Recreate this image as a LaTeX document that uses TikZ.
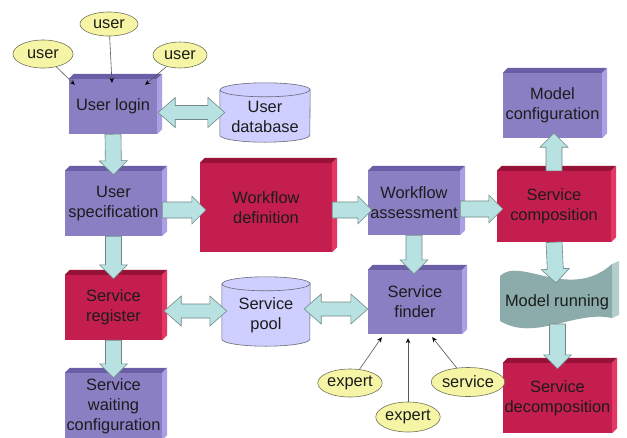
\documentclass[tikz,border=0pt]{standalone}
\usepackage{fontspec}
\setmainfont{Liberation Sans}
\usetikzlibrary{calc,arrows.meta,shapes.geometric}

\definecolor{pfront}{RGB}{139,127,196}
\definecolor{ptop}{RGB}{106,95,166}
\definecolor{pside}{RGB}{170,160,230}
\definecolor{cfront}{RGB}{196,30,78}
\definecolor{ctop}{RGB}{150,18,55}
\definecolor{cside}{RGB}{228,55,100}
\definecolor{cylfill}{RGB}{206,206,255}
\definecolor{cylline}{RGB}{105,105,120}
\definecolor{arrfill}{RGB}{184,226,226}
\definecolor{arrline}{RGB}{115,135,135}
\definecolor{ellfill}{RGB}{245,245,165}
\definecolor{ellline}{RGB}{115,115,90}
\definecolor{wavefill}{RGB}{140,172,172}
\definecolor{waveside}{RGB}{180,206,206}
\definecolor{txt}{RGB}{28,28,28}

\newcommand\boxfaces[3]{%
  \fill[#2] (#1.north west) -- ++(5,-5) -- ($(#1.north east)+(5,-5)$) -- (#1.north east) -- cycle;
  \fill[#3] (#1.north east) -- ++(5,-5) -- ($(#1.south east)+(5,-5)$) -- (#1.south east) -- cycle;
}
\newcommand\cylshape[2]{%
  \filldraw[cylstyle] ($(#1.north west)+(0,7)$) -- ($(#1.south west)+(0,-7)$)
    arc[start angle=180,end angle=360,x radius=#2pt,y radius=7pt]
    -- ($(#1.north east)+(0,7)$)
    arc[start angle=0,end angle=180,x radius=#2pt,y radius=7pt] -- cycle;
  \draw[cylstyle,fill=none] ($(#1.north west)+(0,7)$)
    arc[start angle=180,end angle=360,x radius=#2pt,y radius=7pt];
}
\newcommand\onearrow[2]{%
  \coordinate (bS) at #1; \coordinate (bE) at #2;
  \coordinate (bH) at ($(bE)!14pt!(bS)$);
  \filldraw[barrow] ($(bS)!8pt!90:(bE)$) -- ($(bH)!8pt!90:(bE)$) -- ($(bH)!14pt!90:(bE)$)
    -- (bE) -- ($(bH)!14pt!-90:(bE)$) -- ($(bH)!8pt!-90:(bE)$) -- ($(bS)!8pt!-90:(bE)$) -- cycle;
}
\newcommand\twoarrow[2]{%
  \coordinate (bS) at #1; \coordinate (bE) at #2;
  \coordinate (bHs) at ($(bS)!17pt!(bE)$);
  \coordinate (bHe) at ($(bE)!17pt!(bS)$);
  \filldraw[barrow] (bS) -- ($(bHs)!15pt!90:(bE)$) -- ($(bHs)!7pt!90:(bE)$) -- ($(bHe)!7pt!90:(bE)$)
    -- ($(bHe)!15pt!90:(bE)$) -- (bE) -- ($(bHe)!15pt!-90:(bE)$) -- ($(bHe)!7pt!-90:(bE)$)
    -- ($(bHs)!7pt!-90:(bE)$) -- ($(bHs)!15pt!-90:(bE)$) -- cycle;
}

\begin{document}
\begin{tikzpicture}[x=1pt,y=-1pt,
  lbl/.style={font=\fontsize{16.4}{20}\selectfont, text=txt, align=center},
  pbox/.style={lbl, fill=pfront, inner sep=0pt},
  cbox/.style={lbl, fill=cfront, inner sep=0pt},
  cylnode/.style={inner sep=0pt},
  cylstyle/.style={draw=cylline, fill=cylfill, line width=0.6pt},
  oval/.style={lbl, ellipse, draw=ellline, fill=ellfill, line width=0.6pt, inner sep=0pt},
  ptr/.style={draw=black!65, line width=0.6pt, -{Stealth[length=5pt,width=4.5pt,color=black]}},
  barrow/.style={draw=arrline, fill=arrfill, line width=0.6pt, line join=miter}]

\fill[white] (0,0) rectangle (627,437);
\useasboundingbox (0,0) rectangle (627,437);

% 3D boxes
\node[pbox, minimum width=88pt, minimum height=55pt] (login) at (113,106.5) {User login};
\boxfaces{login}{ptop}{pside}
\node[pbox, minimum width=97pt, minimum height=65pt] (spec) at (113.5,203.5) {User\\specification};
\boxfaces{spec}{ptop}{pside}
\node[cbox, minimum width=132pt, minimum height=89pt] (wdef) at (266,207.5) {Workflow\\definition};
\boxfaces{wdef}{ctop}{cside}
\node[pbox, minimum width=92pt, minimum height=64pt] (wass) at (414,203) {Workflow\\assessment};
\boxfaces{wass}{ptop}{pside}
\node[cbox, minimum width=114pt, minimum height=71pt] (scomp) at (554,206.5) {Service\\composition};
\boxfaces{scomp}{ctop}{cside}
\node[pbox, minimum width=99pt, minimum height=65pt] (mconf) at (552.5,105.5) {Model\\configuration};
\boxfaces{mconf}{ptop}{pside}
\node[cbox, minimum width=97pt, minimum height=65pt] (sreg) at (113.5,307.5) {Service\\register};
\boxfaces{sreg}{ctop}{cside}
\node[pbox, minimum width=94pt, minimum height=64pt] (sfind) at (415,302) {Service\\finder};
\boxfaces{sfind}{ptop}{pside}
\node[cbox, minimum width=109pt, minimum height=70pt] (sdec) at (557.5,398) {Service\\decomposition};
\boxfaces{sdec}{ctop}{cside}
\node[pbox, minimum width=97pt, minimum height=67pt] (swait) at (113.5,406.5) {Service\\waiting\\configuration};
\boxfaces{swait}{ptop}{pside}

% cylinders
\node[cylnode, minimum width=90pt, minimum height=59pt] (udb) at (265,112.5) {};
\cylshape{udb}{45}
\node[lbl] (udbtext) at ($(udb.center)+(0,4.5)$) {User\\database};
\node[cylnode, minimum width=88pt, minimum height=69pt] (spool) at (266,311.5) {};
\cylshape{spool}{44}
\node[lbl] (spooltext) at ($(spool.center)+(0,4)$) {Service\\pool};

% wave
\fill[waveside] (612,264) -- (619,261) -- (619,315) -- (612,318) -- cycle;
\fill[wavefill] (500,276) .. controls (520,256) and (570,302) .. (612,264)
  -- (612,318) .. controls (575,310) and (535,342) .. (500,321) -- cycle;
\node[lbl] (mrun) at (557,302) {Model running};

% ellipses
\node[oval, minimum width=60pt, minimum height=28pt] (u1) at (43,54) {user};
\node[oval, minimum width=58pt, minimum height=24pt] (u2) at (109,24) {user};
\node[oval, minimum width=54pt, minimum height=26pt] (u3) at (180,55) {user};
\node[oval, minimum width=60pt, minimum height=28pt] (e1) at (350,383) {expert};
\node[oval, minimum width=60pt, minimum height=30pt] (e2) at (408,417) {expert};
\node[oval, minimum width=58pt, minimum height=29pt] (e3) at (468,382) {service};

% pointers
\draw[ptr] (u1) -- ($(login.north west)+(6,6)$);
\draw[ptr] (u2) -- ($(login.north)+(-1,4)$);
\draw[ptr] (u3) -- ($(login.north east)+(-12,6)$);
\draw[ptr] (e1) -- ($(sfind.south west)+(14,3)$);
\draw[ptr] (e2) -- ($(sfind.south)+(-7,4)$);
\draw[ptr] (e3) -- ($(sfind.south east)+(-30,3)$);

% block arrows
\onearrow{(login.south)}{($(spec.north)+(0,4)$)}
\onearrow{($(spec.east)+(0,6.5)$)}{($(wdef.west)+(6,2.5)$)}
\onearrow{($(wdef.east)+(0,2.5)$)}{($(wass.west)+(4,7)$)}
\onearrow{($(wass.east)+(0,6)$)}{($(scomp.west)+(6,2.5)$)}
\onearrow{(wass.south)}{($(sfind.north)+(-1,4)$)}
\onearrow{(scomp.north)}{($(mconf.south)+(1.5,-5)$)}
\onearrow{(scomp.south)}{($(mrun.center)+(-1,-19)$)}
\onearrow{($(mrun.center)+(0.5,22)$)}{($(sdec.north)+(0,6)$)}
\onearrow{(spec.south)}{($(sreg.north)+(0,4)$)}
\onearrow{(sreg.south)}{($(swait.north)+(0,5)$)}
\twoarrow{($(login.east)+(1,6)$)}{($(udb.west)+(5,0)$)}
\twoarrow{($(sreg.east)+(2,3.5)$)}{($(spool.west)+(5,-0.5)$)}
\twoarrow{($(spool.east)+(-6,-2.5)$)}{($(sfind.west)+(0,7)$)}
\end{tikzpicture}
\end{document}
